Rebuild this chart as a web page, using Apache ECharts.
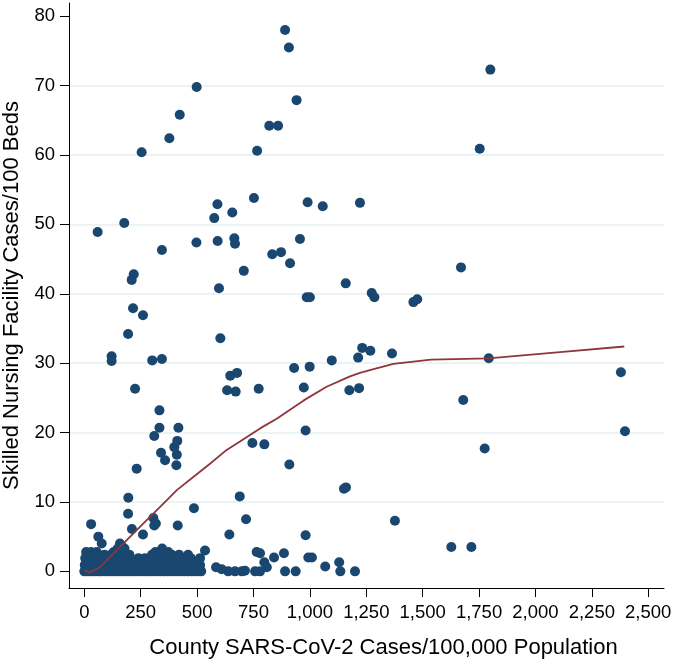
<!DOCTYPE html>
<html>
<head>
<meta charset="utf-8">
<script src="https://cdn.jsdelivr.net/npm/echarts@6/dist/echarts.min.js"></script>
<style>
html,body{margin:0;padding:0;background:#fff;}
#chart{width:674px;height:665px;}
</style>
</head>
<body>
<div id="chart"></div>
<script>
// ---- Data ----
const xTitle = "County SARS-CoV-2 Cases/100,000 Population";
const yTitle = "Skilled Nursing Facility Cases/100 Beds";
const xTicks = [0, 250, 500, 750, 1000, 1250, 1500, 1750, 2000, 2250, 2500];
const yTicks = [0, 10, 20, 30, 40, 50, 60, 70, 80];

// Scattered counties (outside the dense cluster)
const countyCases = [890, 907, 1800, 498, 941, 423, 820, 859, 377, 254, 766, 1753, 752, 990, 1222, 1057, 590, 576, 656, 177,
  59, 497, 591, 665, 668, 956, 344, 833, 872, 912, 1670, 707, 219, 210, 1159, 597, 986, 1000, 1274, 1286,
  1459, 1476, 216, 260, 194, 603, 1232, 1268, 1364, 121, 121, 301, 344, 1214, 1097, 1793, 930, 999, 647, 677,
  2379, 225, 633, 671, 773, 973, 1175, 1218, 1680, 333, 333, 417, 981, 2397, 310, 412, 745, 798, 399, 1775,
  340, 410, 358, 408, 909, 232, 1151, 1160, 195, 689, 486, 194, 306, 717, 1377, 317, 30, 310, 414, 211,
  260, 643, 981, 62, 77, 158, 166, 1627, 1716, 535, 764, 779, 885, 841, 993, 1009, 798, 809, 1068, 1130,
  584, 609, 638, 668, 698, 712, 757, 779, 890, 937, 1135, 1200, 513, 513, 513];
const snfCases = [78.0, 75.5, 72.3, 69.8, 67.9, 65.8, 64.2, 64.2, 62.4, 60.4, 60.6, 60.9, 53.8, 53.2, 53.1, 52.6, 52.9, 50.9, 51.7, 50.2,
  48.9, 47.4, 47.6, 48.0, 47.2, 47.9, 46.3, 45.7, 46.0, 44.4, 43.8, 43.3, 42.8, 42.0, 41.5, 40.8, 39.5, 39.5, 40.1, 39.5,
  38.8, 39.2, 37.9, 36.9, 34.2, 33.6, 32.2, 31.8, 31.4, 31.0, 30.3, 30.4, 30.6, 30.8, 30.4, 30.7, 29.3, 29.5, 28.2, 28.6,
  28.7, 26.3, 26.1, 25.9, 26.3, 26.5, 26.1, 26.4, 24.7, 23.2, 20.7, 20.7, 20.3, 20.2, 19.5, 18.8, 18.5, 18.3, 17.9, 17.7,
  17.1, 16.8, 16.0, 15.3, 15.4, 14.8, 11.9, 12.1, 10.6, 10.8, 9.1, 8.3, 7.7, 7.5, 7.3, 6.9, 6.8, 6.6, 6.6, 6.1,
  5.3, 5.3, 5.2, 5.0, 4.0, 4.0, 3.6, 3.5, 3.5, 3.0, 2.8, 2.6, 2.6, 2.0, 2.0, 2.0, 1.3, 0.6, 0.7, 1.3,
  0.6, 0.3, 0, 0, 0, 0.1, 0, 0, 0, 0, 0, 0, 1.9, 0.9, 0.2];

// Dense cluster near the origin, read row by row
const clusterCases = [
  0, 12, 25, 38, 50, 63, 75, 90, 104, 118, 130, 145, 158, 172, 186, 200, 214, 228, 242, 256, 270, 284, 298, 312, 326, 340, 355, 370, 385, 400, 415, 430, 445, 460, 475, 490, 505, 518,
  6, 30, 55, 80, 110, 138, 165, 192, 220, 248, 276, 305, 333, 362, 390, 420, 450, 480, 510,
  2, 20, 42, 68, 95, 125, 152, 178, 205, 235, 262, 290, 318, 346, 375, 402, 432, 462, 492,
  10, 33, 58, 85, 112, 140, 168, 196, 225, 255, 282, 308, 336, 365, 395, 425, 455, 485,
  4, 26, 50, 74, 100, 132, 160, 188, 240, 268, 294, 322, 350, 380, 410, 440, 472,
  14, 40, 64, 90, 118, 150, 175, 200, 300, 328, 356, 388, 420, 460,
  8, 30, 55, 130, 165, 315, 340, 372,
  148, 178, 345];
const clusterSnf = [
  0, 0, 0, 0, 0, 0, 0, 0, 0, 0, 0, 0, 0, 0, 0, 0, 0, 0, 0, 0, 0, 0, 0, 0, 0, 0, 0, 0, 0, 0, 0, 0, 0, 0, 0, 0, 0, 0,
  0.4, 0.4, 0.4, 0.4, 0.4, 0.4, 0.4, 0.4, 0.4, 0.4, 0.4, 0.4, 0.4, 0.4, 0.4, 0.4, 0.4, 0.4, 0.4,
  0.9, 0.9, 0.9, 0.9, 0.9, 0.9, 0.9, 0.9, 0.9, 0.9, 0.9, 0.9, 0.9, 0.9, 0.9, 0.9, 0.9, 0.9, 0.9,
  1.4, 1.4, 1.4, 1.4, 1.4, 1.4, 1.4, 1.4, 1.4, 1.4, 1.4, 1.4, 1.4, 1.4, 1.4, 1.4, 1.4, 1.4,
  1.9, 1.9, 1.9, 1.9, 1.9, 1.9, 1.9, 1.9, 1.9, 1.9, 1.9, 1.9, 1.9, 1.9, 1.9, 1.9, 1.9,
  2.4, 2.4, 2.4, 2.4, 2.4, 2.4, 2.4, 2.4, 2.4, 2.4, 2.4, 2.4, 2.4, 2.4,
  2.8, 2.8, 2.8, 2.8, 2.8, 2.8, 2.8, 2.8,
  3.3, 3.3, 3.3];

// Lowess smoother
const lowessX = [3, 22, 70, 114, 188, 262, 336, 410, 483, 557, 631, 690, 779, 853, 971, 1074, 1178, 1222, 1266, 1370, 1537, 1791, 2109, 2394];
const lowessY = [0.2, -0.2, 0.6, 2.1, 4.5, 6.9, 9.3, 11.7, 13.6, 15.5, 17.5, 18.7, 20.6, 22.0, 24.6, 26.6, 28.1, 28.6, 29.0, 29.9, 30.5, 30.7, 31.6, 32.4];

// ---- Build options ----
const scatterData = [];
countyCases.forEach((x, i) => scatterData.push([x, snfCases[i]]));
clusterCases.forEach((x, i) => scatterData.push([x, clusterSnf[i]]));
const lineData = lowessX.map((x, i) => [x, lowessY[i]]);

const FONT = '"Liberation Sans", Arial, Helvetica, sans-serif';
const chart = echarts.init(document.getElementById('chart'), null, {renderer: 'canvas'});
chart.setOption({
  animation: false,
  backgroundColor: '#ffffff',
  textStyle: {fontFamily: FONT},
  grid: {left: 69, right: 10, top: 3, bottom: 77, containLabel: false, outerBoundsMode: 'none'},
  xAxis: {
    type: 'value', min: -68, max: 2570,
    axisLine: {show: true, onZero: false, lineStyle: {color: '#000', width: 1}},
    axisTick: {show: true, customValues: xTicks, length: 9, lineStyle: {color: '#000', width: 1}},
    axisLabel: {customValues: xTicks, fontSize: 18.5, color: '#000', fontFamily: FONT, margin: 15,
      formatter: v => Number(v).toLocaleString('en-US')},
    splitLine: {show: false},
    name: xTitle, nameLocation: 'middle', nameGap: 49,
    nameTextStyle: {fontSize: 22, color: '#000', fontFamily: FONT, padding: [0, 0, 0, 34]}
  },
  yAxis: {
    type: 'value', min: -2.4, max: 81.9, minInterval: 10, maxInterval: 10, splitNumber: 8,
    axisLine: {show: true, onZero: false, lineStyle: {color: '#000', width: 1}},
    axisTick: {show: true, customValues: yTicks, length: 9, lineStyle: {color: '#000', width: 1}},
    axisLabel: {customValues: yTicks, fontSize: 18.5, color: '#000', fontFamily: FONT, margin: 14},
    splitLine: {show: true, showMinLine: false, showMaxLine: false, lineStyle: {color: '#e6eff1', width: 1.5}},
    name: yTitle, nameLocation: 'middle', nameGap: 46,
    nameTextStyle: {fontSize: 22, color: '#000', fontFamily: FONT}
  },
  series: [
    {type: 'scatter', data: scatterData, symbol: 'circle', symbolSize: 10,
      itemStyle: {color: '#1a476f', opacity: 1}, z: 2, silent: true},
    {type: 'line', data: lineData, showSymbol: false, smooth: false,
      lineStyle: {color: '#90353b', width: 1.8}, z: 3, silent: true}
  ]
});
</script>
</body>
</html>
